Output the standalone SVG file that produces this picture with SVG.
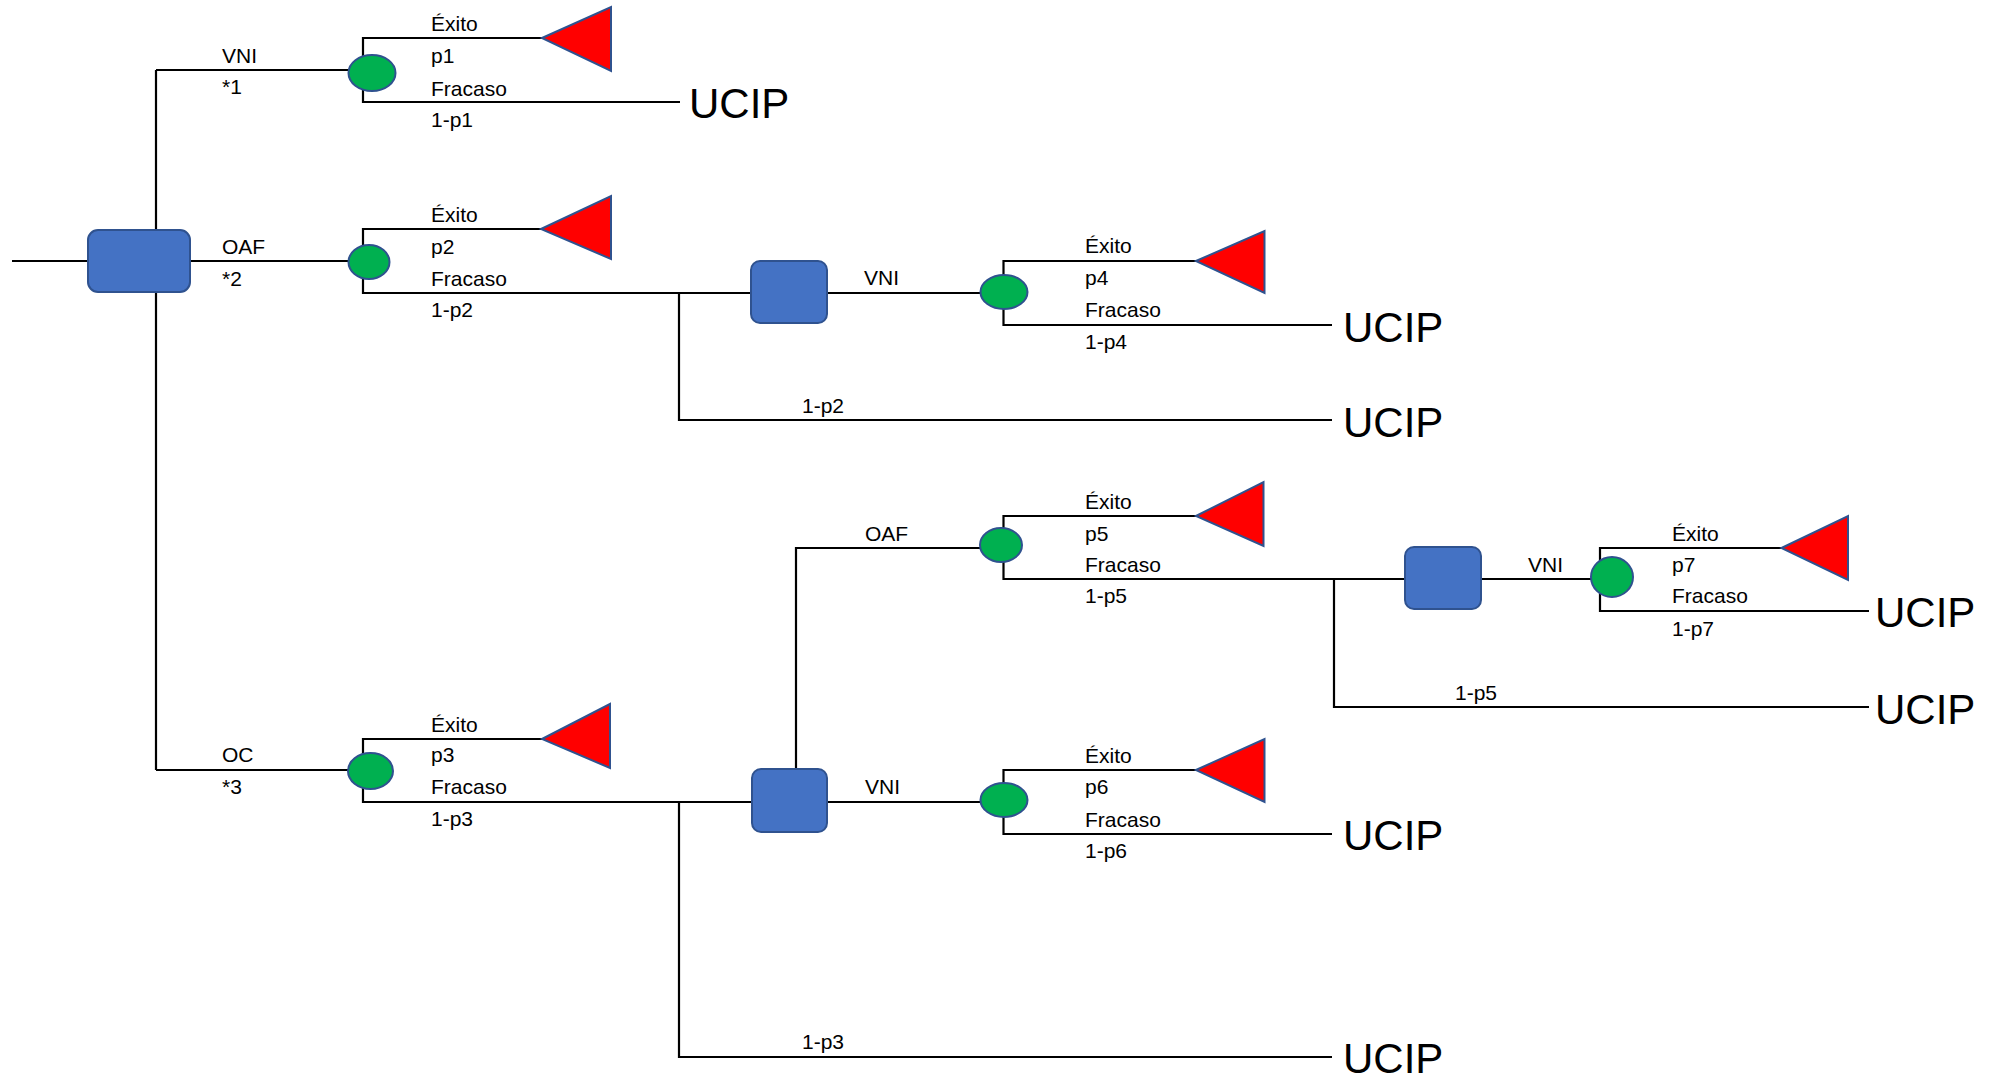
<svg xmlns="http://www.w3.org/2000/svg" width="2004" height="1081" viewBox="0 0 2004 1081">
<style>
.ln{fill:none;stroke:#000;stroke-width:2.2}
.dec{fill:#4472C4;stroke:#2F528F;stroke-width:2}
.ch{fill:#00B050;stroke:#2F528F;stroke-width:2}
.tr{fill:#FF0000;stroke:#2F528F;stroke-width:2}
.t{font-family:"Liberation Sans",Arial,sans-serif;font-size:21px;fill:#000}
.u{font-family:"Liberation Sans",Arial,sans-serif;font-size:42px;fill:#000}
</style>
<rect width="2004" height="1081" fill="#fff"/>
<g id="connectors">
<path class="ln" d="M12,261 H88"/>
<path class="ln" d="M156,70 V770"/>
<path class="ln" d="M156,70 H350"/>
<path class="ln" d="M190,261 H350"/>
<path class="ln" d="M156,770 H350"/>
<path class="ln" d="M542,38 H363 V102 H680"/>
<path class="ln" d="M541,229 H363 V293 H752"/>
<path class="ln" d="M679,293 V420 H1332"/>
<path class="ln" d="M827,293 H982"/>
<path class="ln" d="M1196,261 H1003.5 V325 H1332"/>
<path class="ln" d="M542,739 H363 V802 H752"/>
<path class="ln" d="M679,802 V1057 H1332"/>
<path class="ln" d="M796,769 V548 H982"/>
<path class="ln" d="M1196,516 H1003.5 V579 H1405"/>
<path class="ln" d="M1334,579 V707 H1869"/>
<path class="ln" d="M1481,579 H1592"/>
<path class="ln" d="M1781,548 H1600 V611 H1869"/>
<path class="ln" d="M827,802 H982"/>
<path class="ln" d="M1196,770 H1003.5 V834 H1332"/>
</g>
<g id="d0"><rect class="dec" x="88" y="230" width="102" height="62" rx="10"/></g>
<g id="d1"><rect class="dec" x="751" y="261" width="76" height="62" rx="9"/></g>
<g id="d2"><rect class="dec" x="752" y="769" width="75" height="63" rx="9"/></g>
<g id="d3"><rect class="dec" x="1405" y="547" width="76" height="62" rx="9"/></g>
<g id="c1"><ellipse class="ch" cx="372" cy="73" rx="23.5" ry="18"/></g>
<g id="c2"><ellipse class="ch" cx="369" cy="262" rx="20.5" ry="17"/></g>
<g id="c3"><ellipse class="ch" cx="370.5" cy="771" rx="22.5" ry="18"/></g>
<g id="c4"><ellipse class="ch" cx="1004" cy="292" rx="23.5" ry="17"/></g>
<g id="c5"><ellipse class="ch" cx="1001" cy="545" rx="21" ry="17"/></g>
<g id="c6"><ellipse class="ch" cx="1004" cy="800" rx="23.5" ry="17"/></g>
<g id="c7"><ellipse class="ch" cx="1612" cy="577" rx="21" ry="20"/></g>
<g id="t1"><polygon class="tr" points="542,38 611,7 611,71"/></g>
<g id="t2"><polygon class="tr" points="541,229 611,196 611,259"/></g>
<g id="t3"><polygon class="tr" points="542,739 610,704 610,768"/></g>
<g id="t4"><polygon class="tr" points="1196,261 1264.5,231 1264.5,293"/></g>
<g id="t5"><polygon class="tr" points="1196,516 1263.5,482 1263.5,546"/></g>
<g id="t6"><polygon class="tr" points="1196,770 1264.5,739 1264.5,802"/></g>
<g id="t7"><polygon class="tr" points="1781.5,548 1848,516 1848,580"/></g>
<g id="u1"><text class="u" x="689" y="118">UCIP</text></g>
<g id="u2"><text class="u" x="1343" y="342">UCIP</text></g>
<g id="u3"><text class="u" x="1343" y="437">UCIP</text></g>
<g id="u4"><text class="u" x="1875" y="627">UCIP</text></g>
<g id="u5"><text class="u" x="1875" y="724">UCIP</text></g>
<g id="u6"><text class="u" x="1343" y="850">UCIP</text></g>
<g id="u7"><text class="u" x="1343" y="1073">UCIP</text></g>
<g id="labels">
<text class="t" x="222" y="63">VNI</text>
<text class="t" x="222" y="94">*1</text>
<text class="t" x="431" y="31">Éxito</text>
<text class="t" x="431" y="63">p1</text>
<text class="t" x="431" y="96">Fracaso</text>
<text class="t" x="431" y="127">1-p1</text>
<text class="t" x="222" y="254">OAF</text>
<text class="t" x="222" y="286">*2</text>
<text class="t" x="431" y="222">Éxito</text>
<text class="t" x="431" y="254">p2</text>
<text class="t" x="431" y="286">Fracaso</text>
<text class="t" x="431" y="317">1-p2</text>
<text class="t" x="864" y="285">VNI</text>
<text class="t" x="1085" y="253">Éxito</text>
<text class="t" x="1085" y="285">p4</text>
<text class="t" x="1085" y="317">Fracaso</text>
<text class="t" x="1085" y="349">1-p4</text>
<text class="t" x="802" y="413">1-p2</text>
<text class="t" x="865" y="541">OAF</text>
<text class="t" x="1085" y="509">Éxito</text>
<text class="t" x="1085" y="541">p5</text>
<text class="t" x="1085" y="572">Fracaso</text>
<text class="t" x="1085" y="603">1-p5</text>
<text class="t" x="1528" y="572">VNI</text>
<text class="t" x="1672" y="541">Éxito</text>
<text class="t" x="1672" y="572">p7</text>
<text class="t" x="1672" y="603">Fracaso</text>
<text class="t" x="1672" y="636">1-p7</text>
<text class="t" x="1455" y="700">1-p5</text>
<text class="t" x="222" y="762">OC</text>
<text class="t" x="222" y="794">*3</text>
<text class="t" x="431" y="732">Éxito</text>
<text class="t" x="431" y="762">p3</text>
<text class="t" x="431" y="794">Fracaso</text>
<text class="t" x="431" y="826">1-p3</text>
<text class="t" x="865" y="794">VNI</text>
<text class="t" x="1085" y="763">Éxito</text>
<text class="t" x="1085" y="794">p6</text>
<text class="t" x="1085" y="827">Fracaso</text>
<text class="t" x="1085" y="858">1-p6</text>
<text class="t" x="802" y="1049">1-p3</text>
</g>
</svg>
